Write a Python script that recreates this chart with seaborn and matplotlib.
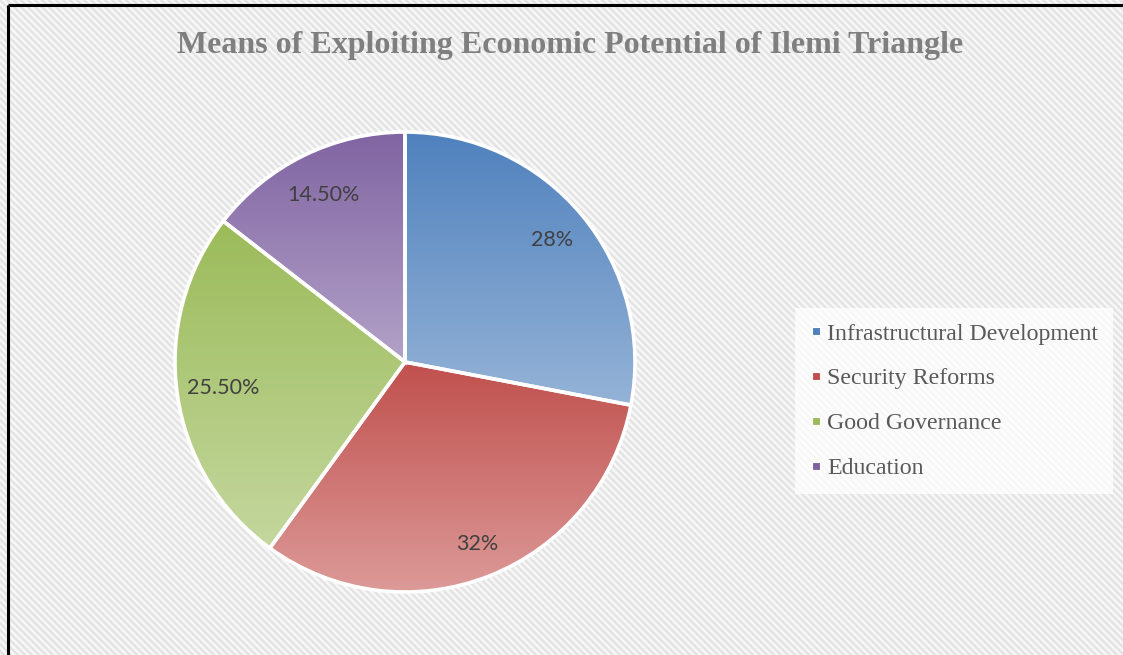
import numpy as np
import matplotlib
matplotlib.use("Agg")
import matplotlib.pyplot as plt
from matplotlib.lines import Line2D
import matplotlib.colors as mcolors
import seaborn as sns

# Chart data
categories = ["Infrastructural Development", "Security Reforms", "Good Governance", "Education"]
shares = [28.0, 32.0, 25.5, 14.5]
pct_labels = ["28%", "32%", "25.50%", "14.50%"]
title = "Means of Exploiting Economic Potential of Ilemi Triangle"

# Gradient fills: darker tone at the top of each slice, lighter at the bottom
top_colors = ["#4f81bd", "#c0504d", "#9bbb59", "#8064a2"]
bottom_colors = ["#95b3d7", "#dc9a98", "#c4d79e", "#b3a2c8"]
# radial distance of each percentage label (fraction of the radius)
label_dist = [0.83, 0.85, 0.80, 0.81]

sns.set_theme(style="white")
plt.rcParams["font.family"] = ["Liberation Serif", "DejaVu Sans"]

W, H = 1123, 655
fig = plt.figure(figsize=(W / 100, H / 100), dpi=100)

# Diagonal striped backdrop
bg = fig.add_axes([0, 0, 1, 1])
yy, xx = np.mgrid[0:H, 0:W]
phase = ((xx - yy) % 7) / 7.0
stripe = 0.5 + 0.5 * np.cos(2 * np.pi * phase)
shade = 0.975 - 0.09 * stripe
bg.imshow(shade, cmap="gray", vmin=0, vmax=1, extent=[0, W, H, 0], aspect="auto",
          interpolation="bilinear")
bg.set_xlim(0, W)
bg.set_ylim(H, 0)
bg.axis("off")

# Frame lines on the left and top edges
bg.plot([8, 8], [5, H], color="black", lw=2.2, solid_capstyle="butt")
bg.plot([8, W], [5, 5], color="black", lw=2.2, solid_capstyle="butt")

# Pie axes: center (405, 362) px, radius 230 px, small margin for the edge line
cx, cy, r = 405, 362, 230
m = 1.03
ax = fig.add_axes([(cx - r * m) / W, (H - cy - r * m) / H, 2 * r * m / W, 2 * r * m / H])
ax.axis("off")

wedges, texts, autotexts = ax.pie(
    shares, startangle=90, counterclock=False, radius=1.0,
    colors=top_colors, autopct="%1.1f%%", pctdistance=0.83,
    wedgeprops=dict(edgecolor="white", linewidth=2.6),
)

for w, t, c0, c1, lab, d in zip(wedges, autotexts, top_colors, bottom_colors,
                                pct_labels, label_dist):
    # bounding box of the wedge
    th = np.radians(np.linspace(w.theta1, w.theta2, 200))
    xs = np.concatenate([[w.center[0]], w.center[0] + w.r * np.cos(th)])
    ys = np.concatenate([[w.center[1]], w.center[1] + w.r * np.sin(th)])
    x0, x1, y0, y1 = xs.min(), xs.max(), ys.min(), ys.max()
    cmap = mcolors.LinearSegmentedColormap.from_list("g", [c0, c1])
    grad = np.linspace(0, 1, 256).reshape(-1, 1)
    im = ax.imshow(grad, cmap=cmap, extent=[x0, x1, y0, y1], origin="upper",
                   aspect="auto", interpolation="bilinear", zorder=1)
    im.set_clip_path(w)
    w.set_facecolor("none")
    w.set_zorder(2)
    mid = np.radians((w.theta1 + w.theta2) / 2)
    t.set_position((d * np.cos(mid), d * np.sin(mid)))
    t.set_text(lab)
    t.set_fontfamily("Lato")
    t.set_fontsize(15.5)
    t.set_color("#404040")
    t.set_zorder(3)

ax.set_xlim(-m, m)
ax.set_ylim(-m, m)
ax.set_aspect("equal")

fig.text(570 / W, 1 - 46 / H, title, ha="center", va="center",
         fontsize=23, fontweight="bold", color="#7f7f7f",
         family="Liberation Serif")

handles = [Line2D([0], [0], marker="s", linestyle="none", markersize=5.5,
                  markerfacecolor=c, markeredgecolor="white", markeredgewidth=0.8)
           for c in top_colors]
leg = fig.legend(handles, categories, loc="center left",
                 bbox_to_anchor=(795 / W, 1 - 401 / H),
                 frameon=True, fancybox=False, framealpha=0.75,
                 facecolor="white", edgecolor="none",
                 prop={"family": "Liberation Serif", "size": 17.2},
                 labelcolor="#595959", handlelength=0.55, handletextpad=0.2,
                 labelspacing=0.97, borderpad=0.6, borderaxespad=0)

fig.savefig("out.png", dpi=100)
